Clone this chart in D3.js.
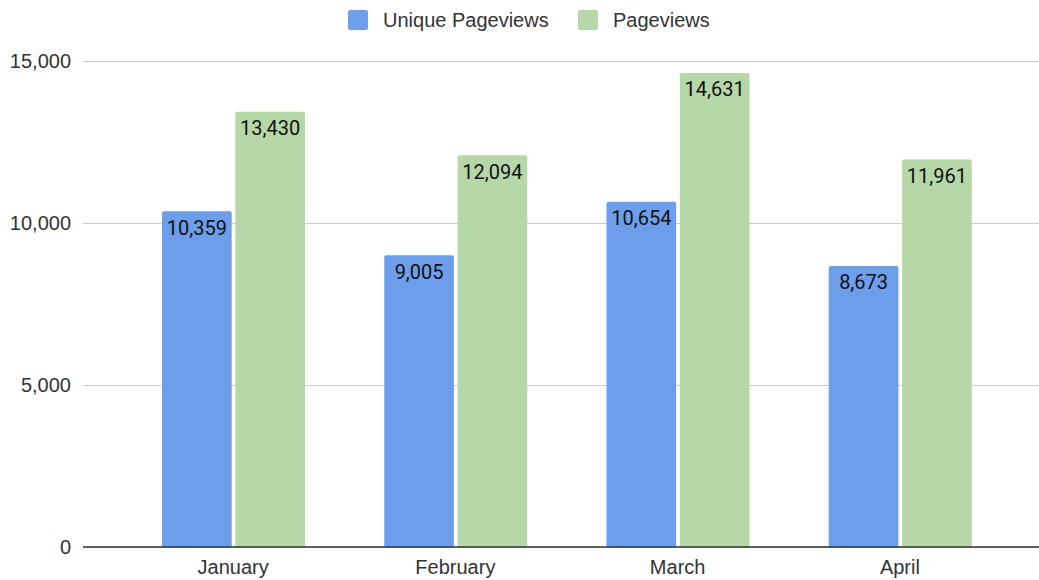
<!DOCTYPE html>
<html><head><meta charset="utf-8">
<script src="https://cdn.jsdelivr.net/npm/d3@7"></script>
<style>body{margin:0;background:#fff}svg{display:block}</style>
</head><body><svg id="c" width="1039" height="580"></svg>
<script>
const categories = ["January", "February", "March", "April"];
const seriesNames = ["Unique Pageviews", "Pageviews"];
const uniquePageviews = [10359, 9005, 10654, 8673];
const pageviews = [13430, 12094, 14631, 11961];
const yTicks = [0, 5000, 10000, 15000];
const colors = ["#6d9eeb", "#b6d7a8"];

const svg = d3.select("#c");
const series = [uniquePageviews, pageviews];
const x = d3.scaleBand().domain(categories).range([122, 1011]);
const xi = d3.scaleBand().domain(d3.range(2)).range([40, 183]).paddingInner(0.05);
const y = d3.scaleLinear().domain([0, 15000]).range([547, 61]);
const fmt = d3.format(",");
const font = "Arial, 'Liberation Sans', sans-serif";

// grid
const yAxis = d3.axisLeft(y).tickValues(yTicks).tickFormat(fmt).tickSize(-(1039 - 83)).tickPadding(12);
const gy = svg.append("g").attr("transform", "translate(83,0)").call(yAxis);
gy.select(".domain").remove();
gy.selectAll(".tick line").attr("stroke", "#cccccc").attr("stroke-width", 1);
gy.selectAll(".tick text").attr("font-family", font).attr("font-size", 20).attr("fill", "#333").attr("x", -12);

// bars
categories.forEach((c, i) => {
  series.forEach((s, j) => {
    const x0 = x(c) + xi(j), w = xi.bandwidth(), y0 = y(s[i]);
    const r = 2;
    svg.append("path")
      .attr("d", `M${x0},${y(0)}V${y0 + r}Q${x0},${y0} ${x0 + r},${y0}H${x0 + w - r}Q${x0 + w},${y0} ${x0 + w},${y0 + r}V${y(0)}Z`)
      .attr("fill", colors[j]);
    svg.append("text")
      .attr("x", x0 + w / 2).attr("y", y0 + 23.5)
      .attr("text-anchor", "middle")
      .attr("font-family", "Roboto, sans-serif").attr("font-size", 20)
      .attr("fill", "#111").text(fmt(s[i]));
  });
});

// x axis
const xAxis = d3.axisBottom(x).tickSize(0).tickPadding(13);
const gx = svg.append("g").attr("transform", `translate(0,${y(0)})`).call(xAxis);
gx.select(".domain").remove();
gx.selectAll(".tick text").attr("font-family", font).attr("font-size", 20).attr("fill", "#333").attr("dy", "0.71em");
svg.append("line").attr("x1", 83).attr("x2", 1039).attr("y1", y(0)).attr("y2", y(0)).attr("stroke", "#333").attr("stroke-width", 1.3);

// legend
const legX = [348, 578];
seriesNames.forEach((n, j) => {
  svg.append("rect").attr("x", legX[j]).attr("y", 10).attr("width", 20).attr("height", 20).attr("rx", 2).attr("fill", colors[j]);
  svg.append("text").attr("x", legX[j] + 35).attr("y", 27)
    .attr("font-family", font).attr("font-size", 20).attr("fill", "#333").text(n);
});
</script></body></html>
